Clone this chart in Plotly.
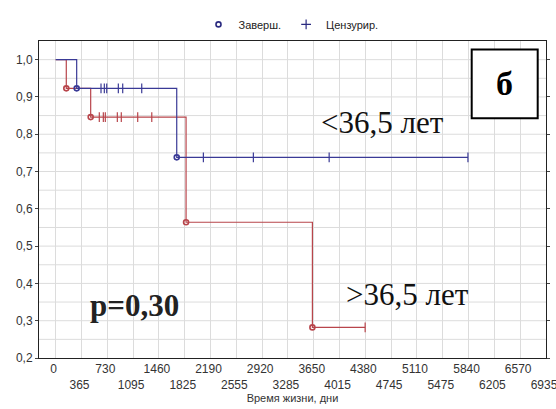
import plotly.graph_objects as go
import numpy as np

# ---- data (days, survival) ----
young_event_days = [297, 1712]
young_event_surv = [0.923, 0.738]
young_censor_days = [641, 688, 722, 886, 948, 1217, 2089, 2796, 3868, 5831]

old_event_days = [150, 495, 1844, 3631]
old_event_surv = [0.923, 0.846, 0.564, 0.282]
old_censor_days = [617, 674, 702, 872, 928, 1160, 1359, 4377]

x_tick_vals = list(range(0, 6936, 365))
y_tick_vals = [0.2, 0.3, 0.4, 0.5, 0.6, 0.7, 0.8, 0.9, 1.0]

BLUE = "#3a3a96"
RED = "#b8454b"
LEG = "#2a2a80"


def step_path(ev_days, ev_surv, end_day):
    xs, ys = [0], [1.0]
    for d, s in zip(ev_days, ev_surv):
        xs.append(d); ys.append(s)
    xs.append(end_day); ys.append(ys[-1])
    return xs, ys


def surv_at(t, ev_days, ev_surv):
    s = 1.0
    for d, v in zip(ev_days, ev_surv):
        if d <= t:
            s = v
    return s


fig = go.Figure()

for ev_d, ev_s, cen, col in [
    (old_event_days, old_event_surv, old_censor_days, RED),
    (young_event_days, young_event_surv, young_censor_days, BLUE),
]:
    end = max(max(cen), max(ev_d))
    xs, ys = step_path(ev_d, ev_s, end)
    fig.add_trace(go.Scatter(x=xs, y=ys, mode="lines", line=dict(color=col, width=1.2, shape="hv"),
                             showlegend=False, hoverinfo="skip"))
    fig.add_trace(go.Scatter(x=cen, y=[surv_at(t, ev_d, ev_s) for t in cen], mode="markers",
                             marker=dict(symbol="line-ns", size=7, line=dict(color=col, width=1.2)),
                             showlegend=False))
    fig.add_trace(go.Scatter(x=ev_d, y=ev_s, mode="markers",
                             marker=dict(symbol="circle-open", size=5, color=col, line=dict(color=col, width=1.6)),
                             showlegend=False))

# legend entries
fig.add_trace(go.Scatter(x=[None], y=[None], mode="markers", name="Заверш.",
                         marker=dict(symbol="circle-open", size=5, color=LEG, line=dict(color=LEG, width=1.6))))
fig.add_trace(go.Scatter(x=[None], y=[None], mode="markers", name="Цензурир.",
                         marker=dict(symbol="cross-thin-open", size=7, color=LEG, line=dict(color=LEG, width=1.2))))

x_tick_text = [(str(v) if i % 2 == 0 else "<br>" + str(v)) for i, v in enumerate(x_tick_vals)]
y_tick_text = [f"{v:.1f}".replace(".", ",") for v in y_tick_vals]

L, R, T, B = 39, 10, 33, 51
W, H = 556, 409
pw, ph = W - L - R, H - T - B


def px(x):
    return (x - L) / pw


def py(y):
    return (H - B - y) / ph


serif = "Liberation Serif, Times New Roman, serif"
ann = [
    dict(x=px(382), y=py(117), text="&lt;36,5 лет", font=dict(family=serif, size=31, color="#111")),
    dict(x=px(407), y=py(293), text="&gt;36,5 лет", font=dict(family=serif, size=31, color="#111")),
    dict(x=px(134), y=py(304), text="<b>p=0,30</b>", font=dict(family=serif, size=31, color="#222")),
    dict(x=px(504.7), y=py(77), text="<b>б</b>", font=dict(family=serif, size=34, color="#000")),
]
for a in ann:
    a.update(xref="paper", yref="paper", showarrow=False, xanchor="center", yanchor="middle")

fig.add_shape(type="rect", xref="paper", yref="paper",
              x0=px(471.7), x1=px(537.7), y0=py(112.3), y1=py(41.7),
              line=dict(color="#000", width=2), fillcolor="white", layer="above")

fig.update_layout(
    width=W, height=H,
    margin=dict(l=L, r=R, t=T, b=B),
    paper_bgcolor="white", plot_bgcolor="white",
    font=dict(family="Liberation Sans, Arial, sans-serif", size=11, color="#333"),
    showlegend=True,
    legend=dict(orientation="h", x=px(291), xanchor="center", y=py(16), yanchor="middle",
                font=dict(size=11, color="#222"), itemwidth=30, bgcolor="rgba(0,0,0,0)"),
    annotations=ann,
    xaxis=dict(range=[-236, 6935], tickvals=x_tick_vals, ticktext=x_tick_text, tickangle=0,
               automargin=False, ticklabeloverflow="allow", ticklabelshift=-2,
               showgrid=True, gridcolor="#dcdcdc", gridwidth=1, zeroline=False,
               showline=True, linecolor="#222", linewidth=1, mirror=True, ticks="",
               title=dict(text="Время жизни, дни", font=dict(size=11, color="#333"), standoff=2),
               tickfont=dict(size=12, color="#333")),
    yaxis=dict(range=[0.2, 1.05], tickvals=y_tick_vals, ticktext=y_tick_text,
               automargin=False,
               showgrid=False, zeroline=False,
               showline=True, linecolor="#222", linewidth=1, mirror="ticks",
               ticks="outside", ticklen=3, tickcolor="#444",
               tickfont=dict(size=12, color="#333")),
)

# horizontal grid every 0.05
for g in np.arange(0.25, 1.05, 0.05):
    fig.add_hline(y=float(g), line=dict(color="#dcdcdc", width=1), layer="below")

fig.write_html("out.html", config={"displayModeBar": False},
               post_script="document.body.style.margin='0';document.body.style.overflow='hidden';")
